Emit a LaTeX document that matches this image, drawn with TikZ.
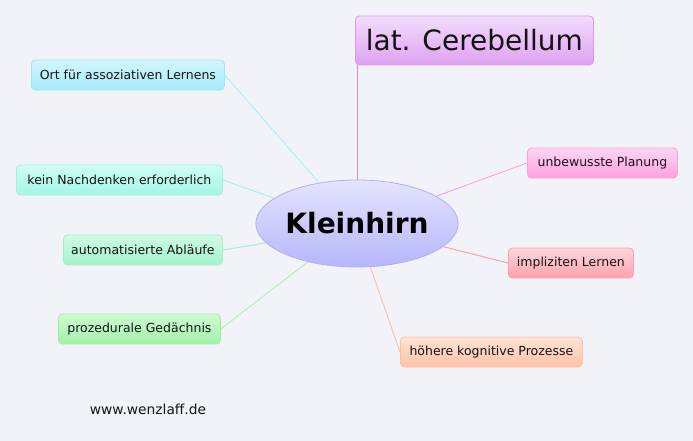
\documentclass[tikz,border=0pt]{standalone}
\usepackage{fontspec}
\setmainfont{DejaVu Sans}
\usetikzlibrary{shapes.geometric}
\definecolor{bg}{HTML}{F2F3F8}
\definecolor{txt}{HTML}{141414}
\definecolor{cerline}{HTML}{D08CF0}
\tikzset{
  box/.style={draw, rounded corners=4pt, line width=0.8pt, inner sep=0pt,
    minimum height=30pt, anchor=west, text=txt,
    font=\fontsize{12.5}{14}\selectfont},
  link/.style={line width=0.9pt},
}
\begin{document}
\begin{tikzpicture}[x=1pt,y=-1pt]
\fill[bg] (0,0) rectangle (693,441);
\useasboundingbox (0,0) rectangle (693,441);

% central ellipse
\node[ellipse, top color={rgb,255:red,228;green,228;blue,254}, bottom color={rgb,255:red,182;green,182;blue,251},
  draw={rgb,255:red,175;green,175;blue,245}, line width=0.8pt,
  minimum width=200pt, minimum height=87pt, inner sep=0pt, text=black,
  font=\fontsize{28}{32}\selectfont\bfseries] (kh) at (357,223.5) {Kleinhirn};

% branch boxes
\node[box, minimum width=238pt, minimum height=49pt, draw={rgb,255:red,219;green,152;blue,240},
  top color={rgb,255:red,243;green,220;blue,251}, bottom color={rgb,255:red,221;green,162;blue,242},
  font=\fontsize{28}{32}\selectfont] (cer) at (355,40.5) {lat. Cerebellum};

\node[box, minimum width=193pt, draw={rgb,255:red,158;green,230;blue,248},
  top color={rgb,255:red,210;green,246;blue,254}, bottom color={rgb,255:red,166;green,235;blue,251}]
  (ort) at (31,75) {Ort für assoziativen Lernens};

\node[box, minimum width=206pt, draw={rgb,255:red,160;green,240;blue,226},
  top color={rgb,255:red,207;green,253;blue,245}, bottom color={rgb,255:red,163;green,246;blue,230}]
  (kein) at (16,180) {kein Nachdenken erforderlich\hspace{14pt}};

\node[box, minimum width=159pt, draw={rgb,255:red,162;green,239;blue,200},
  top color={rgb,255:red,208;green,251;blue,229}, bottom color={rgb,255:red,163;green,242;blue,202}]
  (auto) at (63,250) {automatisierte Abläufe};

\node[box, minimum width=162pt, draw={rgb,255:red,158;green,236;blue,166},
  top color={rgb,255:red,207;green,251;blue,207}, bottom color={rgb,255:red,162;green,241;blue,170}]
  (proz) at (58,329) {prozedurale Gedächnis};

\node[box, minimum width=150pt, draw={rgb,255:red,255;green,160;blue,222},
  top color={rgb,255:red,255;green,214;blue,242}, bottom color={rgb,255:red,255;green,159;blue,222}]
  (unbew) at (527,163) {unbewusste Planung};

\node[box, minimum width=125pt, draw={rgb,255:red,255;green,160;blue,174},
  top color={rgb,255:red,255;green,213;blue,220}, bottom color={rgb,255:red,255;green,162;blue,176}]
  (impl) at (508,263) {impliziten Lernen};

\node[box, minimum width=182pt, draw={rgb,255:red,255;green,191;blue,162},
  top color={rgb,255:red,255;green,227;blue,214}, bottom color={rgb,255:red,255;green,194;blue,166}]
  (hoe) at (400,352) {höhere kognitive Prozesse};

% connectors
\draw[link, line width=1.2pt, cerline] ([xshift=0.5pt]kh.90) -- ([xshift=0.5pt]kh.90 |- cer.south);
\draw[link, draw={rgb,255:red,168;green,238;blue,248}] (ort.east) -- (kh.133);
\draw[link, draw={rgb,255:red,162;green,242;blue,228}] (kein.east) -- (kh.163);
\draw[link, draw={rgb,255:red,162;green,239;blue,200}] (auto.east) -- (kh.192);
\draw[link, draw={rgb,255:red,168;green,240;blue,176}] (proz.east) -- (kh.218);
\draw[link, draw={rgb,255:red,255;green,159;blue,222}] (unbew.west) -- (kh.19);
\draw[link, draw={rgb,255:red,255;green,154;blue,170}] (impl.west) -- (kh.345);
\draw[link, draw={rgb,255:red,255;green,191;blue,160}] (hoe.west) -- (kh.287);

% footer
\node[text=txt, font=\fontsize{13.8}{16}\selectfont] (url) at (148,409) {www.wenzlaff.de};
\end{tikzpicture}
\end{document}
